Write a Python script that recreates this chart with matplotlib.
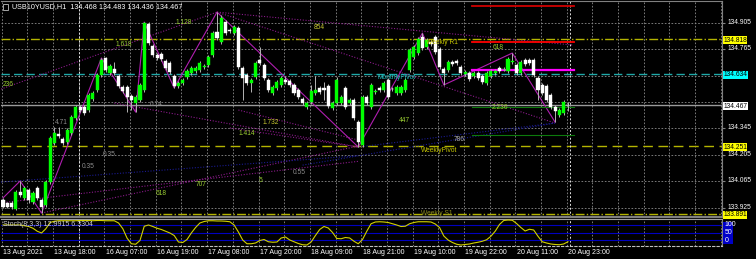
import numpy as np
import matplotlib.pyplot as plt
import matplotlib.transforms as mtransforms
from matplotlib.patches import Rectangle

plt.rcParams['font.family'] = ['Liberation Sans', 'DejaVu Sans']

# H1 bars, USB10YUSD, 13 Aug 2021 .. 20 Aug 2021
opens = [133.965, 133.949, 133.949, 133.917, 134.007, 133.976, 134.018, 133.954, 134.029, 133.965,
         133.939, 134.060, 134.267, 134.315, 134.288, 134.272, 134.320, 134.400, 134.458, 134.458,
         134.442, 134.500, 134.548, 134.628, 134.718, 134.638, 134.659, 134.622, 134.564, 134.564,
         134.516, 134.479, 134.495, 134.548, 134.898, 134.781, 134.734, 134.739, 134.702, 134.691,
         134.622, 134.569, 134.585, 134.617, 134.638, 134.649, 134.654, 134.670, 134.681, 134.734,
         134.855, 134.802, 134.908, 134.866, 134.850, 134.877, 134.665, 134.628, 134.585, 134.617,
         134.707, 134.681, 134.601, 134.532, 134.559, 134.575, 134.601, 134.596, 134.575, 134.548,
         134.500, 134.458, 134.484, 134.532, 134.559, 134.559, 134.569, 134.453, 134.479, 134.479,
         134.559, 134.479, 134.495, 134.378, 134.257, 134.511, 134.458, 134.537, 134.559, 134.548,
         134.601, 134.553, 134.532, 134.532, 134.548, 134.654, 134.723, 134.744, 134.829, 134.776,
         134.802, 134.829, 134.765, 134.659, 134.654, 134.696, 134.702, 134.670, 134.633, 134.638,
         134.622, 134.638, 134.622, 134.585, 134.622, 134.638, 134.665, 134.659, 134.649, 134.696,
         134.681, 134.638, 134.707, 134.707, 134.707, 134.612, 134.575, 134.569, 134.522, 134.458,
         134.416, 134.426, 134.468]
highs = [133.976, 133.954, 133.960, 134.018, 134.066, 134.039, 134.029, 134.013, 134.039, 133.976,
         134.071, 134.304, 134.352, 134.352, 134.299, 134.347, 134.416, 134.469, 134.469, 134.469,
         134.532, 134.543, 134.638, 134.718, 134.723, 134.686, 134.696, 134.633, 134.575, 134.575,
         134.527, 134.522, 134.585, 134.908, 134.908, 134.792, 134.744, 134.749, 134.712, 134.702,
         134.633, 134.596, 134.612, 134.659, 134.675, 134.675, 134.702, 134.686, 134.734, 134.861,
         134.961, 134.946, 134.919, 134.877, 134.892, 134.887, 134.675, 134.638, 134.612, 134.702,
         134.776, 134.691, 134.612, 134.575, 134.601, 134.622, 134.622, 134.606, 134.585, 134.559,
         134.511, 134.490, 134.575, 134.622, 134.569, 134.590, 134.580, 134.490, 134.617, 134.522,
         134.569, 134.506, 134.506, 134.389, 134.522, 134.522, 134.585, 134.553, 134.569, 134.596,
         134.612, 134.564, 134.575, 134.575, 134.612, 134.771, 134.787, 134.829, 134.850, 134.824,
         134.813, 134.840, 134.776, 134.670, 134.707, 134.707, 134.712, 134.681, 134.654, 134.649,
         134.649, 134.649, 134.633, 134.649, 134.659, 134.659, 134.675, 134.670, 134.723, 134.744,
         134.691, 134.707, 134.718, 134.718, 134.718, 134.622, 134.585, 134.580, 134.532, 134.469,
         134.453, 134.495, 134.483]
lows = [133.923, 133.923, 133.917, 133.912, 133.981, 133.965, 133.949, 133.944, 133.965, 133.896,
        133.928, 134.050, 134.257, 134.294, 134.257, 134.262, 134.310, 134.389, 134.431, 134.416,
        134.431, 134.490, 134.537, 134.617, 134.643, 134.628, 134.628, 134.559, 134.532, 134.431,
        134.442, 134.431, 134.484, 134.537, 134.787, 134.723, 134.707, 134.702, 134.654, 134.633,
        134.559, 134.559, 134.575, 134.606, 134.628, 134.638, 134.643, 134.659, 134.670, 134.723,
        134.813, 134.792, 134.840, 134.850, 134.840, 134.659, 134.495, 134.575, 134.537, 134.606,
        134.681, 134.601, 134.537, 134.522, 134.548, 134.564, 134.580, 134.564, 134.522, 134.500,
        134.469, 134.447, 134.474, 134.522, 134.527, 134.495, 134.453, 134.442, 134.469, 134.469,
        134.447, 134.469, 134.389, 134.246, 134.246, 134.469, 134.447, 134.527, 134.537, 134.537,
        134.500, 134.543, 134.522, 134.522, 134.537, 134.643, 134.712, 134.734, 134.760, 134.765,
        134.781, 134.739, 134.659, 134.575, 134.643, 134.675, 134.681, 134.628, 134.622, 134.596,
        134.612, 134.601, 134.580, 134.575, 134.612, 134.628, 134.638, 134.649, 134.638, 134.686,
        134.628, 134.628, 134.675, 134.681, 134.617, 134.495, 134.522, 134.484, 134.447, 134.378,
        134.405, 134.416, 134.436]
closes = [133.928, 133.928, 133.928, 134.007, 133.992, 134.029, 133.965, 134.002, 133.976, 133.928,
          134.060, 134.294, 134.320, 134.304, 134.267, 134.336, 134.405, 134.458, 134.442, 134.426,
          134.522, 134.532, 134.628, 134.707, 134.654, 134.675, 134.638, 134.569, 134.543, 134.511,
          134.495, 134.511, 134.575, 134.903, 134.797, 134.734, 134.718, 134.712, 134.665, 134.643,
          134.569, 134.585, 134.601, 134.649, 134.665, 134.665, 134.691, 134.675, 134.723, 134.850,
          134.824, 134.930, 134.850, 134.861, 134.882, 134.670, 134.612, 134.585, 134.601, 134.691,
          134.691, 134.612, 134.548, 134.564, 134.590, 134.612, 134.590, 134.575, 134.532, 134.511,
          134.479, 134.479, 134.543, 134.548, 134.537, 134.548, 134.463, 134.479, 134.601, 134.511,
          134.458, 134.495, 134.400, 134.272, 134.511, 134.479, 134.575, 134.543, 134.548, 134.585,
          134.511, 134.552, 134.564, 134.564, 134.601, 134.760, 134.776, 134.818, 134.771, 134.813,
          134.792, 134.749, 134.670, 134.638, 134.696, 134.686, 134.691, 134.638, 134.643, 134.606,
          134.638, 134.612, 134.590, 134.638, 134.649, 134.649, 134.649, 134.660, 134.712, 134.702,
          134.638, 134.696, 134.686, 134.691, 134.628, 134.548, 134.532, 134.495, 134.458, 134.437,
          134.442, 134.484, 134.467]

# Stochastic(8,3,3) main line
stoch_k = [80, 80, 80, 80, 80, 77, 74, 67, 55, 48,
           65, 90, 95, 97, 97, 97, 97, 97, 98, 98,
           98, 97, 98, 98, 97, 97, 97, 88, 65, 27,
           5, 3, 18, 75, 80, 74, 67, 62, 55, 48,
           38, 12, 10, 22, 48, 70, 88, 94, 97, 97,
           96, 96, 95, 93, 80, 52, 20, 5, 5, 8,
           18, 22, 13, 11, 12, 28, 32, 20, 13, 6,
           1, 0, 12, 38, 62, 74, 68, 50, 26, 25,
           30, 28, 15, 5, 22, 55, 85, 92, 93, 92,
           90, 85, 80, 74, 75, 85, 90, 93, 93, 93,
           92, 84, 70, 36, 20, 10, 3, 0, 2, 4,
           8, 11, 15, 21, 35, 55, 82, 98, 100, 99,
           86, 70, 56, 63, 60, 35, 13, 8, 4, 2,
           1, 4, 12.99]
stoch_levels = [80, 50, 20]

time_labels = ['13 Aug 2021', '13 Aug 18:00', '16 Aug 07:00', '16 Aug 19:00', '17 Aug 08:00',
               '17 Aug 20:00', '18 Aug 09:00', '18 Aug 21:00', '19 Aug 10:00', '19 Aug 22:00',
               '20 Aug 11:00', '20 Aug 23:00']
label_bars = [0, 12, 24, 36, 48, 60, 72, 84, 96, 108, 120, 132]
price_ticks = [134.905, 134.765, 134.625, 134.485, 134.345, 134.205, 134.065, 133.925]
# 134.625 and 134.485 sit under the level boxes, so no label is shown for them
tick_labels = ['134.905', '134.765', '', '', '134.345', '134.205', '134.065', '133.925']

# pivot levels (price, label box colour, line colour, style)
levels = [134.818, 134.634, 134.467, 134.251, 133.891]
level_box = ['#ffff00', '#00ffff', '#ffffff', '#ffff00', '#ffff00']
level_line = ['#b4b400', '#1fa8a8', '#9a9a9a', '#b4b400', '#b4b400']
level_style = ['-.', (0, (6, 3)), '-', (0, (7, 4)), '-.']

# zigzag swing points (bar, price)
zz_bars = [0, 4, 9, 23, 31, 33, 40, 50, 83, 98, 103, 119, 129]
zz_prices = [133.976, 134.066, 133.896, 134.718, 134.431, 134.908, 134.559, 134.961,
             134.246, 134.850, 134.575, 134.744, 134.378]

# fib fan / channel lines (bar0, bar1, price0, price1, colour)
fib_lines = [(-0.5, 50, 134.553, 134.961, '#8a1a8a'),
             (50, 133, 134.961, 134.787, '#8a1a8a'),
             (26, 83, 134.479, 134.246, '#8a1a8a'),
             (53, 83, 134.347, 134.246, '#8a1a8a'),
             (55, 83, 134.442, 134.283, '#8a1a8a'),
             (9, 83, 133.896, 134.251, '#8a1a8a'),
             (-0.5, 83, 133.950, 134.170, '#8a1a8a'),
             (-0.5, 83, 134.060, 134.200, '#1a1a90'),
             (50, 129, 134.961, 134.373, '#8a1a8a'),
             (83, 129, 134.246, 134.373, '#1a1a90'),
             (70, 129, 134.150, 134.373, '#1a1a90')]

# short object lines at the right (price, colour, width)
seg_prices = [134.995, 134.801, 134.652, 134.456, 134.310]
seg_colors = ['#d00000', '#ff0000', '#ff00ff', '#0c7a0c', '#0c7a0c']
seg_widths = [1.3, 1.3, 1.6, 0.8, 0.8]

# text labels of the drawn objects
obj_text = ['236', '1.618', '1.128', '854', '4.71', '0.74', '0.35', '0.35', '618', '707',
            '1.732', '1.414', '5', '0.55', '447', '786', '618', '2.236',
            'MonthlyPivot', 'Weekly R1', 'WeeklyPivot', 'Weekly S1']
obj_bar = [0, 26.2, 40.3, 72.6, 12.2, 34.4, 23.4, 18.3, 35.6, 45,
           60.7, 55, 59.7, 67.7, 92.5, 105.4, 114.5, 114.3,
           87.4, 98.8, 97.7, 97.7]
obj_price = [134.580, 134.792, 134.908, 134.882, 134.378, 134.474, 134.204, 134.145, 133.997, 134.045,
             134.378, 134.315, 134.066, 134.113, 134.389, 134.288, 134.776, 134.458,
             134.617, 134.802, 134.230, 133.896]
obj_color = ['#9acd32', '#9acd32', '#9acd32', '#c8c832', '#8c8c8c', '#8c8c8c', '#8c8c8c', '#8c8c8c',
             '#9acd32', '#9acd32', '#c8c832', '#9acd32', '#9acd32', '#8c8c8c', '#9acd32', '#b0b0b0',
             '#9acd32', '#9acd32', '#1fc0c0', '#c8c800', '#c8c800', '#8a8a20']

W, H = 756, 259


def px_box(x0, y0, x1, y1):
    return [x0 / W, 1 - y1 / H, (x1 - x0) / W, (y1 - y0) / H]


fig = plt.figure(figsize=(W / 100, H / 100), dpi=100, facecolor='black')
ax = fig.add_axes(px_box(1, 1, 722, 217), facecolor='black')
sub = fig.add_axes(px_box(1, 219, 722, 246), facecolor='black', sharex=ax)

n = len(opens)
idx = np.arange(n)
o = np.array(opens)
c = np.array(closes)
xmin, xmax = -0.47, 168.0

# grid
for k in range(0, 29):
    for a in (ax, sub):
        a.axvline(6 * k - 0.3, color='#8c8c8c', lw=0.6, ls=(0, (2, 2)), zorder=0)
for p in price_ticks:
    ax.axhline(p, color='#8c8c8c', lw=0.6, ls=(0, (2, 2)), zorder=0)

# pivot / level lines
for p, col, st in zip(levels, level_line, level_style):
    ax.axhline(p, color=col, lw=1.0, ls=st, zorder=1)

# fib lines and zigzag
for b0, b1, p0, p1, col in fib_lines:
    ax.plot([b0, b1], [p0, p1], color=col, lw=0.8, ls=(0, (1, 1.5)), zorder=1)
ax.plot(zz_bars, zz_prices, color='#b01eb0', lw=0.8, zorder=2)

for p, col, lw in zip(seg_prices, seg_colors, seg_widths):
    ax.plot([109.5, 133.5], [p, p], color=col, lw=lw, zorder=2)

# candles
up = c >= o
body_col = np.where(up, '#00ff00', '#ffffff')
ax.vlines(idx, lows, highs, color='#b4b4b4', lw=0.7, zorder=3)
bottom = np.minimum(o, c)
height = np.maximum(np.abs(c - o), 0.0015)
ax.bar(idx, height, bottom=bottom, width=0.72, color=body_col, edgecolor=body_col,
       linewidth=0.3, zorder=4)

for t, b, p, col in zip(obj_text, obj_bar, obj_price, obj_color):
    ax.text(b, p, t, color=col, fontsize=4.8, ha='left', va='center', zorder=5)

# bright vertical separators
for a in (ax, sub):
    a.axvline(17.7, color='#e0e0e0', lw=0.7, ls=(0, (2, 2)), zorder=1)
    a.axvline(132.5, color='#e0e0e0', lw=0.7, ls=(0, (2, 2)), zorder=1)

ax.set_xlim(xmin, xmax)
ax.set_ylim(133.875, 135.020)
ax.yaxis.tick_right()
ax.set_yticks(price_ticks)
ax.set_yticklabels(tick_labels)
ax.tick_params(axis='y', length=2, color='#808080', pad=2, labelsize=4.8, labelcolor='white')
ax.tick_params(axis='x', bottom=False, labelbottom=False)
# MT4 puts the scale numbers a touch above their grid line
lift = mtransforms.ScaledTranslation(0, 1.5 / 100, fig.dpi_scale_trans)
for lab in ax.get_yticklabels():
    lab.set_transform(lab.get_transform() + lift)
ax.spines['left'].set_visible(False)
for s in ['top', 'right', 'bottom']:
    ax.spines[s].set_color('#808080')
ax.spines['bottom'].set_linewidth(1.6)

# level boxes on price scale
drop = mtransforms.ScaledTranslation(0, -1.0 / 100, fig.dpi_scale_trans)
for p, col in zip(levels, level_box):
    ax.text(1.0015, p, '%.3f' % p, transform=ax.get_yaxis_transform() + drop, ha='left',
            va='center', fontsize=4.8, color='black', zorder=6,
            bbox=dict(boxstyle='square,pad=0.08', fc=col, ec='none'))

# stochastic window
sub.plot(idx, stoch_k, color='#d2d200', lw=0.8, zorder=3)
for lv in stoch_levels:
    sub.axhline(lv, color='#0000c0', lw=0.8, zorder=1)
sub.set_ylim(-4, 104)
sub.set_yticks([])
sub.set_xticks(label_bars)
sub.set_xticklabels(time_labels)
sub.tick_params(axis='x', length=0, pad=2, labelsize=5, labelcolor='white')
for lab in sub.get_xticklabels():
    lab.set_horizontalalignment('left')
sub.spines['left'].set_visible(False)
sub.spines['top'].set_color('#a0a0a0')
sub.spines['right'].set_color('#808080')
sub.spines['bottom'].set_color('#c0c0c0')
sub.spines['bottom'].set_linestyle((0, (2, 2)))
sub.text(0.003, 0.8, 'Stoch(8,3,3) 12.9915 6.3304', transform=sub.transAxes, color='#d0d0d0',
         fontsize=5, ha='left', va='center')

fig.add_artist(Rectangle((723 / W, 1 - 244 / H), 10 / W, 22 / H, transform=fig.transFigure,
                         facecolor='#0000c8', edgecolor='none'))
for lab, yy in zip(['100', '50', '0'], [224, 232.5, 241]):
    fig.text(724.5 / W, 1 - yy / H, lab, color='white', fontsize=5, ha='left', va='center')

fig.text(12 / W, 1 - 7 / H, 'USB10YUSD,H1  134.468 134.483 134.436 134.467', color='white',
         fontsize=5.2, ha='left', va='center')
fig.add_artist(Rectangle((3 / W, 1 - 10 / H), 5 / W, 6 / H, transform=fig.transFigure,
                         facecolor='none', edgecolor='#c0c0c0', lw=0.6))

plt.savefig('out.png', dpi=100, facecolor='black')
